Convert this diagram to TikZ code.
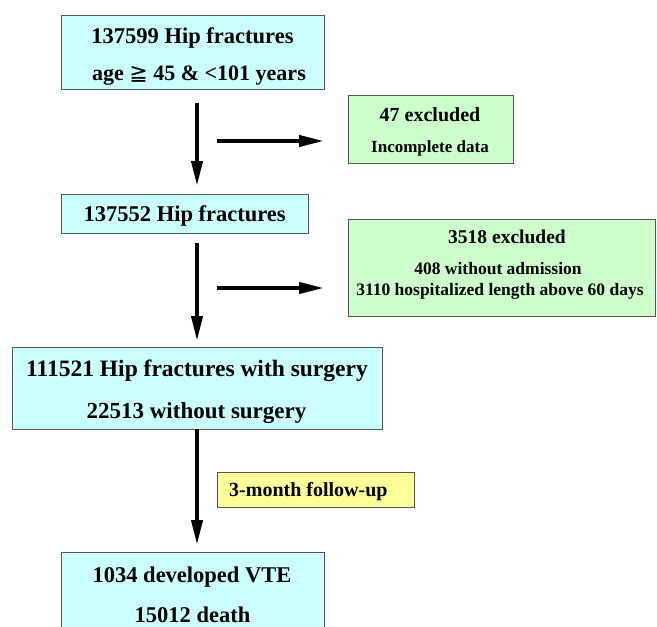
\documentclass[tikz,border=0pt]{standalone}
\usepackage{fontspec}
\setmainfont{Liberation Serif}
\newfontfamily\symf{DejaVu Sans}
\usetikzlibrary{arrows.meta}
\definecolor{cyanfill}{HTML}{CCFFFF}
\definecolor{greenfill}{HTML}{CCFFCC}
\definecolor{yellowfill}{HTML}{FFFF99}
\definecolor{edgegray}{HTML}{555555}
\begin{document}
\begin{tikzpicture}[x=1pt,y=-1pt,
  box/.style={draw=edgegray, line width=1pt, inner sep=0pt, anchor=north west},
  cbox/.style={box, fill=cyanfill},
  gbox/.style={box, fill=greenfill},
  ybox/.style={box, fill=yellowfill},
  txt/.style={inner sep=0pt, anchor=base},
  big/.style={txt, font=\bfseries\fontsize{22.5}{26}\selectfont},
  mid/.style={txt, font=\bfseries\fontsize{20}{24}\selectfont},
  sml/.style={txt, font=\bfseries\fontsize{17.5}{21}\selectfont},
  flowarrow/.style={line width=4pt, -{Triangle[length=25pt,width=11pt]}}]
\useasboundingbox (0,0) rectangle (657,627);
\clip (0,0) rectangle (657,627);
\fill[white] (0,0) rectangle (657,627);

% boxes
\node[cbox, minimum width=263pt, minimum height=74pt] (b1) at (61,15) {};
\node[gbox, minimum width=165pt, minimum height=68pt] (g1) at (348,95) {};
\node[cbox, minimum width=247pt, minimum height=39pt] (b2) at (61,194) {};
\node[gbox, minimum width=307pt, minimum height=97pt] (g2) at (348,219) {};
\node[cbox, minimum width=370pt, minimum height=82pt] (b3) at (12,347) {};
\node[ybox, minimum width=197pt, minimum height=35pt] (y1) at (217,472) {};
\node[cbox, minimum width=263pt, minimum height=90pt] (b4) at (61,552) {};

% texts
\node[big] (t1a) at (192.5,43.3) {137599 Hip fractures};
\node[big, font=\bfseries\fontsize{22}{26}\selectfont] (t1b) at (199,80) {age {\symf\mdseries ≧} 45 \& <101 years};
\node[mid] (tg1a) at (430,121.5) {47 excluded};
\node[txt, font=\bfseries\fontsize{17}{20}\selectfont] (tg1b) at (430,152.5) {Incomplete data};
\node[big] (t2) at (184.7,221.5) {137552 Hip fractures};
\node[txt, font=\bfseries\fontsize{19.5}{23}\selectfont] (tg2a) at (507,243.5) {3518 excluded};
\node[sml] (tg2b) at (498,274.5) {408 without admission};
\node[sml] (tg2c) at (500,295.5) {3110 hospitalized length above 60 days};
\node[big, font=\bfseries\fontsize{23.5}{27}\selectfont] (t3a) at (197,376.5) {111521 Hip fractures with surgery};
\node[big, font=\bfseries\fontsize{23}{27}\selectfont] (t3b) at (196.5,418) {22513 without surgery};
\node[mid, anchor=base west] (ty) at (229,496.5) {3-month follow-up};
\node[big] (t4a) at (192,582.5) {1034 developed VTE};
\node[big] (t4b) at (192.5,622.5) {15012 death};

% connectors
\coordinate (v1s) at (197,103);
\coordinate (v1e) at (197,186);
\coordinate (h1s) at (217,141);
\coordinate (h1e) at (324,141);
\coordinate (v2s) at (197,243);
\coordinate (v2e) at (197,341);
\coordinate (h2s) at (217,288);
\coordinate (h2e) at (324,288);
\coordinate (v3s) at (197,429);
\coordinate (v3e) at (197,545);
\draw[flowarrow] (v1s) -- (v1e);
\draw[flowarrow] (h1s) -- (h1e);
\draw[flowarrow] (v2s) -- (v2e);
\draw[flowarrow] (h2s) -- (h2e);
\draw[flowarrow] (v3s) -- (v3e);
\end{tikzpicture}
\end{document}
